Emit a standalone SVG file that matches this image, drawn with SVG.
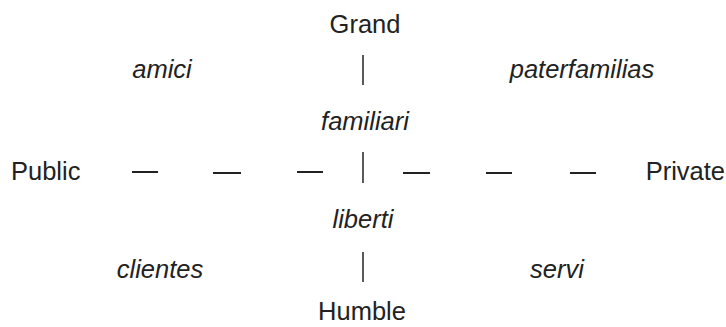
<svg xmlns="http://www.w3.org/2000/svg" width="726" height="327" viewBox="0 0 726 327">
<style>
text{font-family:"Liberation Sans",Arial,sans-serif;font-size:25.5px;fill:#222}
.i{font-style:italic}
.c{text-anchor:middle}
.ln{stroke:#222;stroke-width:1.5;fill:none}
.d{stroke:#222;stroke-width:2;fill:none}
</style>
<rect width="726" height="327" fill="#fff"/>
<g id="grand"><text x="365" y="33" class="c">Grand</text></g>
<g id="amici"><text x="162" y="78" class="i c">amici</text></g>
<g id="paterfamilias"><text x="582" y="78" class="i c">paterfamilias</text></g>
<g id="familiari"><text x="365" y="130" class="i c">familiari</text></g>
<g id="public"><text x="11" y="180">Public</text></g>
<g id="private"><text x="725" y="180" style="text-anchor:end">Private</text></g>
<g id="liberti"><text x="363" y="228" class="i c">liberti</text></g>
<g id="clientes"><text x="160" y="278" class="i c">clientes</text></g>
<g id="servi"><text x="557" y="278" class="i c">servi</text></g>
<g id="humble"><text x="362" y="320" class="c">Humble</text></g>
<g id="connectors">
<line class="ln" x1="363" y1="55" x2="363" y2="85"/>
<line class="ln" x1="363" y1="152" x2="363" y2="183"/>
<line class="ln" x1="363" y1="252" x2="363" y2="282"/>
<line class="d" x1="132" y1="172" x2="158" y2="172"/>
<line class="d" x1="213" y1="173" x2="241" y2="173"/>
<line class="d" x1="297" y1="172" x2="323" y2="172"/>
<line class="d" x1="403" y1="173" x2="430" y2="173"/>
<line class="d" x1="486" y1="173" x2="512" y2="173"/>
<line class="d" x1="570" y1="173" x2="596" y2="173"/>
</g>
</svg>
